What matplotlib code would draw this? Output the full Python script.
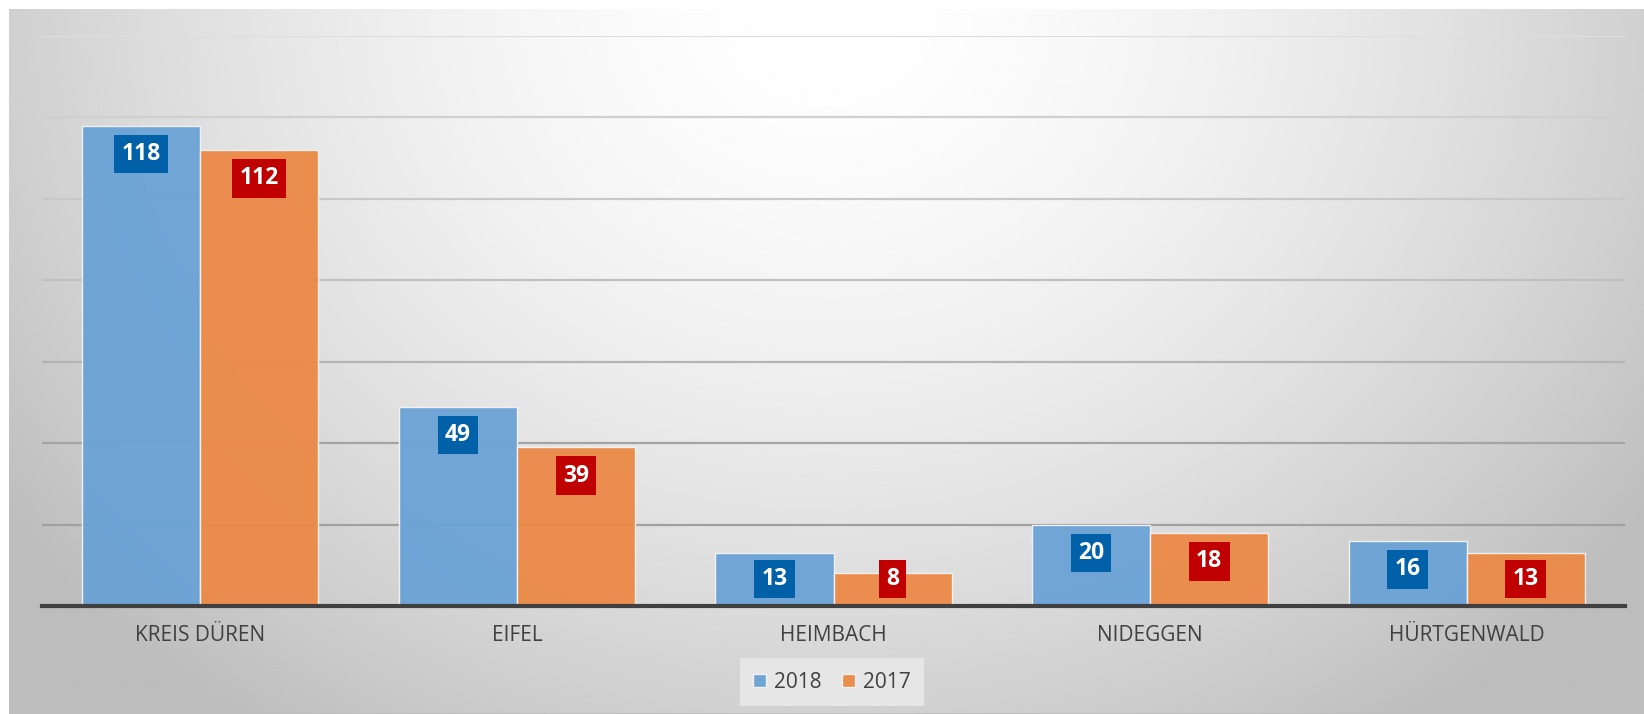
import matplotlib
matplotlib.use("Agg")
import matplotlib.pyplot as plt
import numpy as np

plt.rcParams['font.family'] = ['Open Sans', 'DejaVu Sans']

categories = ['KREIS DÜREN', 'EIFEL', 'HEIMBACH', 'NIDEGGEN', 'HÜRTGENWALD']
series_names = ['2018', '2017']
values_2018 = [118, 49, 13, 20, 16]
values_2017 = [112, 39, 8, 18, 13]

W, H = 1644, 714
fig = plt.figure(figsize=(W / 100, H / 100), dpi=100)
fig.patch.set_facecolor('white')

# radial grey background behind the chart
bg = fig.add_axes([9 / W, 0, 1 - 9 / W, 1 - 9 / H])
yy, xx = np.mgrid[0:1:300j, 0:1:600j]
r = np.sqrt(((xx - 0.5) / 0.62) ** 2 + (yy / 1.25) ** 2)
shade = 1.0 - 0.26 * np.clip(r, 0, 1) ** 1.6
bg.imshow(shade, cmap='gray', vmin=0, vmax=1, aspect='auto',
          extent=[0, 1, 1, 0], interpolation='bilinear')
bg.axhline(1, color='#bdbdbd', lw=2)
bg.set_xlim(0, 1)
bg.set_ylim(1, 0)
bg.axis('off')

ax = fig.add_axes([42 / W, (H - 606) / H, (1625 - 42) / W, (606 - 36) / H])
ax.set_facecolor('none')
ax.set_xlim(-0.5, len(categories) - 0.5)
ax.set_ylim(0, 140)

grid_cols = ['#a0a0a0', '#a4a4a4', '#b4b4b4', '#c0c0c0', '#c8c8c8', '#d0d0d0', '#dedede']
for yv, c in zip(range(20, 141, 20), grid_cols):
    ax.axhline(yv, color=c, lw=1.6, zorder=1)

x = np.arange(len(categories))
bw = 0.373
colors = ['#6aa2d6', '#eb8946']
box_cols = ['#0060a8', '#c00000']
for i, (vals, name) in enumerate([(values_2018, series_names[0]), (values_2017, series_names[1])]):
    xs = x + (i - 0.5) * bw
    ax.bar(xs, vals, width=bw, color=colors[i], alpha=0.95, edgecolor='#f4f4f4',
           linewidth=1, label=name, zorder=2)
    for xv, v in zip(xs, vals):
        ax.text(xv, max(v - 7, 6.6), str(v), ha='center', va='center', color='white',
                fontsize=16.5, fontweight='bold', zorder=4,
                bbox=dict(boxstyle='square,pad=0.32', fc=box_cols[i], ec='none'))

ax.axhline(0, color='#404040', lw=3, zorder=3, clip_on=False)

ax.set_xticks(x)
ax.set_xticklabels(categories, fontsize=15, color='#404040')
ax.tick_params(axis='x', length=0, pad=14)
ax.set_yticks([])
for s in ax.spines.values():
    s.set_visible(False)

leg = ax.legend(loc='center', bbox_to_anchor=(832 / W, 1 - 682 / H),
                bbox_transform=fig.transFigure, ncol=2, frameon=True,
                fontsize=15, handlelength=0.6, handleheight=0.6,
                columnspacing=1.0, handletextpad=0.4, borderpad=0.35,
                borderaxespad=0)
leg.get_frame().set_facecolor('#e6e6e6')
leg.get_frame().set_edgecolor('none')
leg.get_frame().set_alpha(1)
leg.get_frame().set_boxstyle('square')
for t in leg.get_texts():
    t.set_color('#404040')

fig.savefig('out.png', dpi=100)
